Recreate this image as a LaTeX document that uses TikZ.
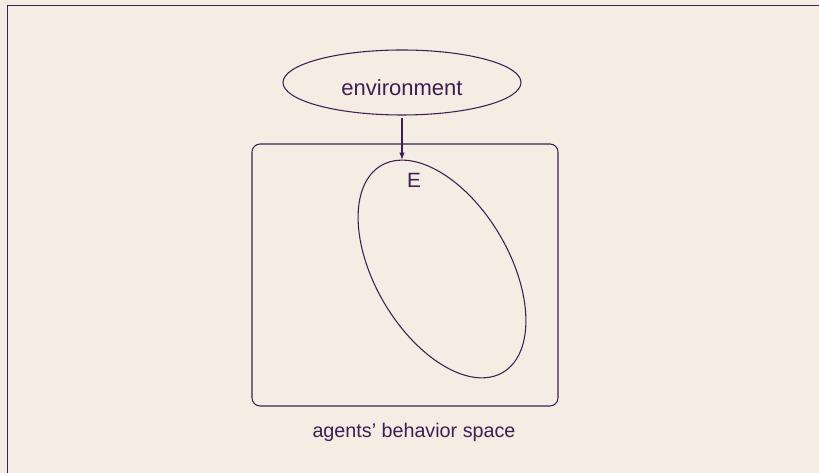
\documentclass[tikz,border=0pt]{standalone}
\usepackage{fontspec}
\setmainfont{Liberation Sans}
\usetikzlibrary{shapes.geometric,arrows.meta}
\definecolor{bgbeige}{HTML}{F5ECE3}
\definecolor{inkpurple}{HTML}{3E1F54}
\tikzset{outline/.style={draw=inkpurple,line width=0.8pt}}

\begin{document}
\begin{tikzpicture}[x=0.75pt,y=-0.75pt,every node/.style={text=inkpurple}]
\useasboundingbox (0,0) rectangle (819,473);
\fill[bgbeige] (0,0) rectangle (819,473);
\draw[inkpurple,line width=1.2pt] (7.5,480) -- (7.5,5.5) -- (830,5.5);
\node[outline,ellipse,inner sep=0,minimum width=178.5pt,minimum height=48.75pt,text height=19.4pt,text depth=0pt,font=\fontsize{16.5}{20}\selectfont] (env) at (402,82.5) {environment};
\node[outline,rounded corners=6pt,minimum width=229.5pt,minimum height=196.5pt] (space) at (405,275) {};
\node[outline,ellipse,rotate=30.5,inner sep=0,minimum width=100.5pt,minimum height=180pt] (region) at (442,269) {};
\coordinate (etop) at (402,160);
\node[font=\fontsize{15.5}{18}\selectfont] (elabel) at (414,180) {E};
\draw[inkpurple,line width=0.8pt,shorten <=1.5pt,-{Latex[length=5.5pt,width=4pt]}] (env.south) -- (etop);
\node[font=\fontsize{14.8}{18}\selectfont] (spacelabel) at (414,432) {agents’ behavior space};
\end{tikzpicture}
\end{document}
